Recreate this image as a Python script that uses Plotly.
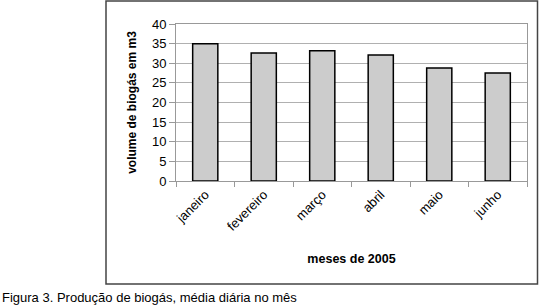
import plotly.graph_objects as go

months = ["janeiro", "fevereiro", "março", "abril", "maio", "junho"]
volume = [35.0, 32.6, 33.2, 32.1, 28.8, 27.5]
y_ticks = [0, 5, 10, 15, 20, 25, 30, 35, 40]

W, H = 539, 308
L, R, T, B = 176, 12, 24, 127
pw, ph = W - L - R, H - T - B

def px_x(px):
    return (px - L) / pw

def px_y(py):
    return (H - B - py) / ph

fig = go.Figure(go.Bar(
    x=months, y=volume,
    marker=dict(color="#cccccc", line=dict(color="#000000", width=1.5)),
))

font = "Liberation Sans, Arial, sans-serif"
fig.update_layout(
    width=W, height=H,
    margin=dict(l=L, r=R, t=T, b=B),
    paper_bgcolor="white", plot_bgcolor="white",
    bargap=0.57,
    showlegend=False,
    font=dict(family=font, size=12, color="black"),
    xaxis=dict(
        tickson="boundaries", ticks="outside", ticklen=5, tickcolor="#999999",
        showline=True, linecolor="#999999", linewidth=1, mirror=True,
        showgrid=False, tickangle=-45, tickfont=dict(size=13),
        title=dict(text="<b>meses de 2005</b>", font=dict(size=12.5), standoff=21),
    ),
    yaxis=dict(
        range=[0, 40], tickvals=y_ticks, ticks="outside", ticklen=6, tickcolor="#999999",
        showline=True, linecolor="#999999", linewidth=1, mirror=True,
        showgrid=True, gridcolor="#b0b0b0", gridwidth=1, zeroline=False,
        tickfont=dict(size=13),
        title=dict(text="<b>volume de biogás em m3</b>", font=dict(size=12), standoff=12),
    ),
    shapes=[dict(
        type="rect", xref="paper", yref="paper",
        x0=px_x(106), x1=px_x(537.5), y0=px_y(284), y1=px_y(1),
        line=dict(color="#444444", width=1.5), fillcolor="rgba(0,0,0,0)", layer="below",
    )],
    annotations=[dict(
        text="Figura 3. Produção de biogás, média diária no mês",
        xref="paper", yref="paper", x=px_x(0), y=px_y(297),
        xanchor="left", yanchor="middle", showarrow=False,
        font=dict(size=13, family=font, color="black"),
    )],
)

fig.write_html(
    "out.html",
    config={"displayModeBar": False},
    post_script="document.body.style.margin='0';document.body.style.overflow='hidden';",
)
